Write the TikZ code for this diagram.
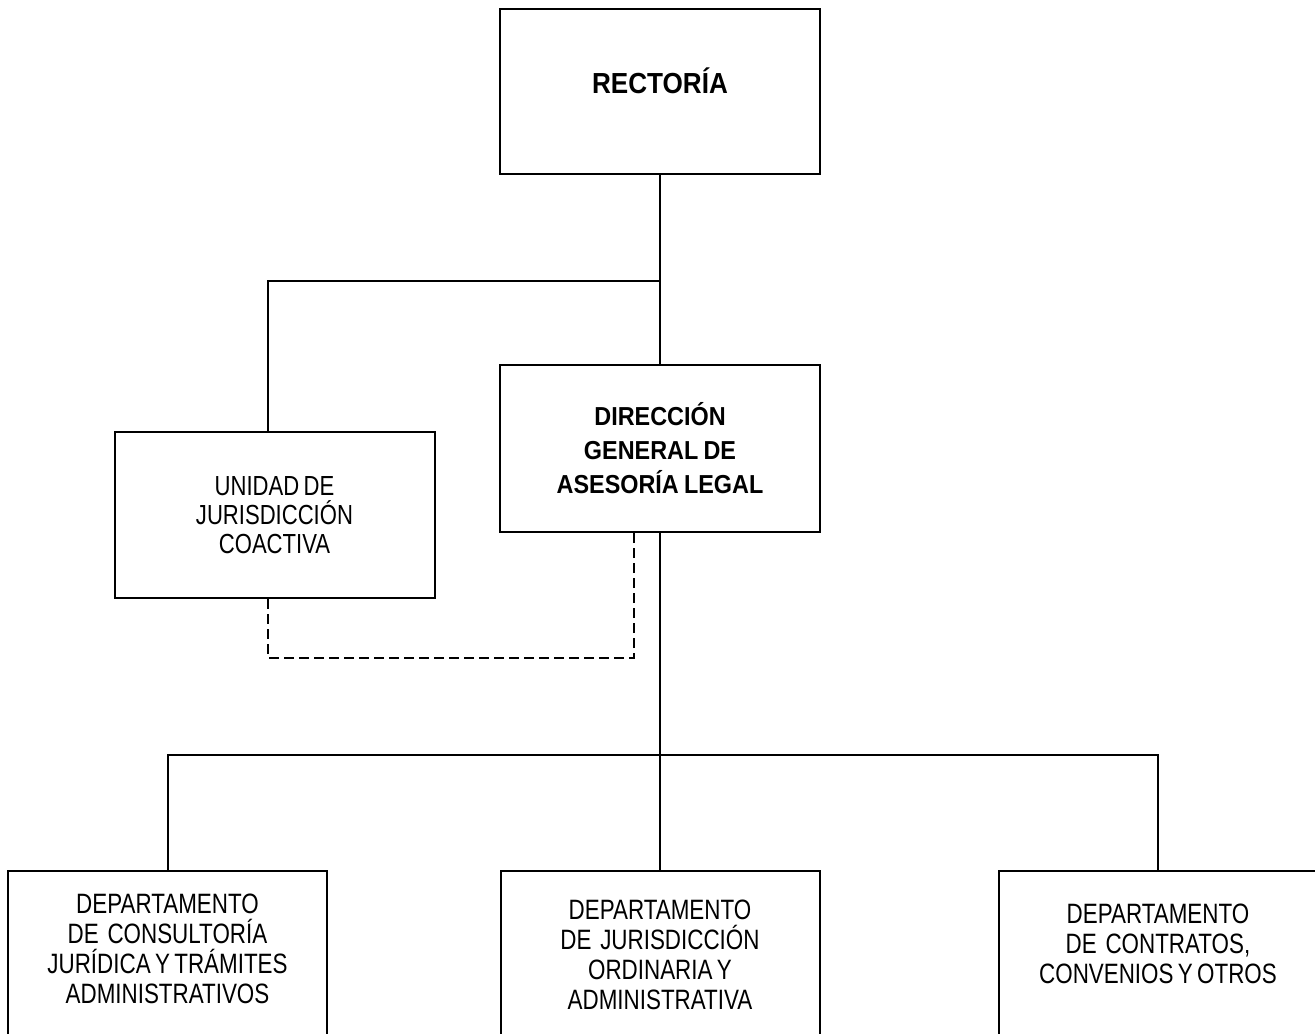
\documentclass[tikz,border=0pt]{standalone}
\usepackage{fontspec}
\setmainfont{Liberation Sans}[FakeStretch=0.8,WordSpace=0.7]
\newfontfamily\hdfont{Liberation Sans}[FakeStretch=0.9,WordSpace=0.8]
\usepackage{tikz}
\tikzset{
	unit/.style={draw,line width=1pt,inner sep=0pt,align=center,minimum width=160pt,minimum height=83pt,font=\fontsize{13.8}{14.5}\selectfont},
	head/.style={unit,font=\hdfont\bfseries\fontsize{13}{17}\selectfont},
	dept/.style={draw,line width=1pt,anchor=north,inner sep=0pt,text width=159.5pt,align=flush center,text height=#1,text depth=100pt,font=\fontsize{14}{15}\selectfont},
	link/.style={line width=1pt},
	dashlink/.style={line width=0.9pt,dash pattern=on 5pt off 2.5pt}
}

\begin{document}
\begin{tikzpicture}[x=0.5pt,y=0.5pt]
	\path[use as bounding box,clip] (0,0) rectangle (1315,-1033);

	\node [head,anchor=north,minimum height=82.5pt,text height=42pt,text depth=40.5pt,font=\hdfont\bfseries\fontsize{14.5}{17}\selectfont] (rect) at (660,-8) {RECTORÍA};
	\node [head,minimum height=83.5pt] (dir) at (660,-448.5) {DIRECCIÓN\\GENERAL DE\\ASESORÍA LEGAL};
	\node [unit] (unid) at (274.5,-515) {UNIDAD DE\\JURISDICCIÓN\\COACTIVA};

	\node [dept=21pt] (dcons) at (167.5,-870) {DEPARTAMENTO\\DE~ CONSULTORÍA\\JURÍDICA Y TRÁMITES\\ADMINISTRATIVOS};
	\node [dept=24pt] (djur) at (660,-870) {DEPARTAMENTO\\DE~ JURISDICCIÓN\\ORDINARIA Y\\ADMINISTRATIVA};
	\node [dept=26pt] (dcont) at (1158,-870) {DEPARTAMENTO\\DE~ CONTRATOS,\\CONVENIOS Y OTROS};

	\coordinate (jl) at (268,-281);
	\coordinate (dl) at (268,-658);
	\coordinate (jb) at (660,-755);

	\draw[link] (rect) -- (dir);
	\draw[link] (jl |- unid.north) -- (jl) -- (jl -| rect.south);
	\draw[dashlink] (unid.south -| dl) -- (dl) -| ([xshift=-13pt]dir.south);
	\draw[link] (dir) -- (djur);
	\draw[link] (dcons) |- (jb) -| (dcont);
\end{tikzpicture}
\end{document}
